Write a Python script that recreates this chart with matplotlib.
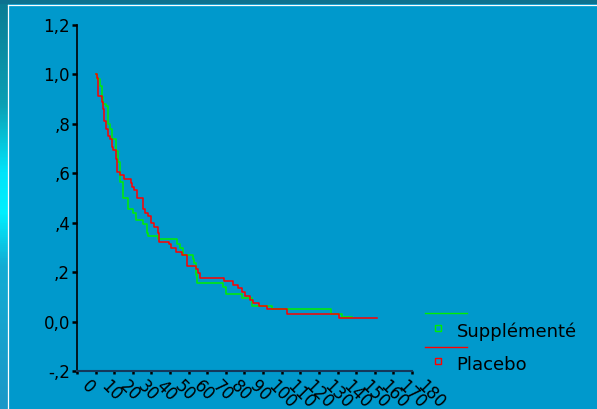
import numpy as np
import matplotlib
matplotlib.use('Agg')
import matplotlib.pyplot as plt
from matplotlib.transforms import ScaledTranslation
from matplotlib.colors import LinearSegmentedColormap

# Survival curves (time, cumulative survival)
supp_time = [10.2, 10.5, 12.4, 13.6, 14.0, 15.6, 16.8, 17.7, 18.8, 20.8, 22.0, 23.1,
             24.6, 27.4, 30.1, 31.7, 35.5, 37.6, 38.3, 43.5, 53.6, 55.3, 57.0, 62.3,
             62.9, 63.7, 64.6, 78.6, 80.1, 88.5, 93.9, 104.9, 136.5, 142.2, 148.0]
supp_surv = [1.0, 0.98, 0.952, 0.907, 0.88, 0.873, 0.80, 0.78, 0.738, 0.69, 0.644, 0.563,
             0.50, 0.457, 0.438, 0.41, 0.394, 0.36, 0.346, 0.333, 0.315, 0.299, 0.268, 0.252,
             0.235, 0.19, 0.157, 0.14, 0.112, 0.096, 0.065, 0.049, 0.032, 0.018, 0.018]

plac_time = [10.2, 10.6, 11.4, 13.3, 13.8, 14.5, 15.6, 16.8, 17.7, 19.0, 19.5, 21.0,
             21.3, 23.1, 25.4, 28.9, 29.7, 30.6, 32.4, 35.6, 36.5, 38.3, 39.6, 41.4,
             43.4, 44.1, 49.4, 50.5, 53.2, 56.3, 58.9, 63.9, 65.2, 66.1, 79.2, 84.0,
             86.7, 88.5, 90.3, 93.2, 94.4, 98.0, 101.9, 112.8, 140.9, 161.2]
plac_surv = [1.0, 0.987, 0.914, 0.887, 0.86, 0.81, 0.78, 0.75, 0.738, 0.705, 0.695, 0.657,
             0.604, 0.592, 0.576, 0.56, 0.546, 0.531, 0.502, 0.454, 0.441, 0.427, 0.40, 0.384,
             0.357, 0.323, 0.312, 0.299, 0.281, 0.268, 0.224, 0.211, 0.197, 0.177, 0.163, 0.15,
             0.137, 0.12, 0.103, 0.089, 0.076, 0.061, 0.049, 0.031, 0.016, 0.016]

y_ticks = [-0.2, 0.0, 0.2, 0.4, 0.6, 0.8, 1.0, 1.2]
y_labels = ['-,2', '0,0', ',2', ',4', ',6', ',8', '1,0', '1,2']
x_ticks = list(range(0, 181, 10))
x_labels = [str(v) for v in x_ticks]
series_names = ['Supplémenté', 'Placebo']
series_colors = ['#00ee00', '#ff0000']

W, H = 597, 409
plt.rcParams['font.family'] = ['DejaVu Sans']
fig = plt.figure(figsize=(W / 100, H / 100), dpi=100, facecolor='#0099cc')

# slide decoration (pixel coordinates)
bg = fig.add_axes([0, 0, 1, 1])
bg.set_axis_off()
bg.set_xlim(0, W)
bg.set_ylim(H, 0)
cmap = LinearSegmentedColormap.from_list('strip', [
    (0.0, '#0a7c94'), (0.25, '#0a9fb4'), (0.42, '#00e4fa'), (0.52, '#00f0ff'),
    (0.65, '#12acd4'), (1.0, '#1a98c8')])
bg.imshow(np.linspace(0, 1, 200)[:, None], extent=(0, 8, H, 0), aspect='auto', cmap=cmap)
bg.add_patch(plt.Rectangle((0, 0), W, 4, color='#0d7290', lw=0))
bg.plot([8, 8], [5, H], color='white', lw=0.9)
bg.plot([8, W], [5, 5], color='white', lw=0.9)

ax = fig.add_axes([77 / W, 1 - 371 / H, (412 - 77) / W, (371 - 25) / H])
ax.set_facecolor('none')
ax.plot(supp_time, supp_surv, drawstyle='steps-post', color=series_colors[0], lw=1.1)
ax.plot(plac_time, plac_surv, drawstyle='steps-post', color=series_colors[1], lw=1.1)

ax.set_xlim(0, 180)
ax.set_ylim(-0.2, 1.2)
for s in ['top', 'right']:
    ax.spines[s].set_visible(False)
ax.spines['left'].set_color('black')
ax.spines['left'].set_linewidth(1.2)
ax.spines['bottom'].set_color('#14385a')
ax.spines['bottom'].set_linewidth(1.5)

ax.set_yticks(y_ticks)
ax.set_yticklabels(y_labels, fontsize=12)
ax.tick_params(axis='y', length=3.5, width=1.8, pad=1.5, color='black')
ax.set_xticks(x_ticks)
ax.set_xticklabels(x_labels, fontsize=12, rotation=-45, ha='left', va='top',
                   rotation_mode='anchor')
ax.tick_params(axis='x', length=2, width=1.8, pad=2.5, color='black')
shift = ScaledTranslation(0.14, 0, fig.dpi_scale_trans)
for lab in ax.get_xticklabels():
    lab.set_transform(lab.get_transform() + shift)

# legend
for i, (name, col) in enumerate(zip(series_names, series_colors)):
    y0 = 313.3 + i * 33.4
    bg.plot([425, 467], [y0, y0], color=col, lw=1.0)
    bg.plot([438], [y0 + 14.2], marker='s', ms=4, mfc='none', mec=col, mew=1.0)
    bg.text(456.5, y0 + 23.5, name, fontsize=13, color='black', va='baseline', ha='left')

fig.savefig('out.png', dpi=100, facecolor=fig.get_facecolor())
